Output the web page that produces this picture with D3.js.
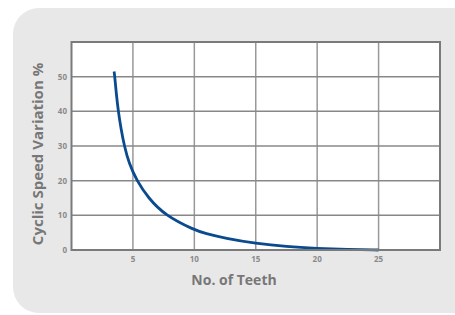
<!DOCTYPE html>
<html><head><meta charset="utf-8">
<script src="https://cdn.jsdelivr.net/npm/d3@7"></script>
<style>html,body{margin:0;padding:0;background:#fff;}svg{display:block;}</style>
</head><body>
<script>
const teeth = [3.47, 3.52, 3.65, 3.81, 4.03, 4.30, 4.68, 5.31, 6.25, 7.61, 10, 10.87, 12.5, 15, 17.5, 20, 22.5, 25];
const variation = [51.5, 50, 45, 40, 35, 30, 25, 20, 15, 10, 5.77, 4.8, 3.4, 1.9, 0.95, 0.45, 0.15, 0];
const xTicks = [5, 10, 15, 20, 25];
const yTicks = [0, 10, 20, 30, 40, 50];
const xTitle = "No. of Teeth";
const yTitle = "Cyclic Speed Variation %";

const W = 455, H = 315;
const svg = d3.select("body").append("svg").attr("width", W).attr("height", H);
svg.append("rect").attr("x", 13).attr("y", 8).attr("width", 470).attr("height", 305)
  .attr("rx", 26).attr("fill", "#e8e8e8");

const L = 71.5, R = 440, T = 42, B = 250;
const x = d3.scaleLinear().domain([0, 30]).range([L, R]);
const y = d3.scaleLinear().domain([0, 60]).range([B, T]);

svg.append("rect").attr("x", L).attr("y", T).attr("width", R - L).attr("height", B - T).attr("fill", "#fff");

const g = svg.append("g");
g.selectAll("line.v").data(xTicks).join("line").attr("class", "v")
  .attr("x1", d => x(d)).attr("x2", d => x(d)).attr("y1", T).attr("y2", B)
  .attr("stroke", "#999").attr("stroke-width", 1.5);
g.selectAll("line.h").data(yTicks.filter(d => d > 0)).join("line").attr("class", "h")
  .attr("x1", L).attr("x2", R).attr("y1", d => y(d)).attr("y2", d => y(d))
  .attr("stroke", "#888").attr("stroke-width", 1.5);

const pts = teeth.map((t, i) => [t, variation[i]]);
svg.append("path").datum(pts)
  .attr("d", d3.line().x(d => x(d[0])).y(d => y(d[1])).curve(d3.curveBasis))
  .attr("fill", "none").attr("stroke", "#0a4a8e").attr("stroke-width", 2.8);

svg.append("rect").attr("x", L).attr("y", T).attr("width", R - L).attr("height", B - T)
  .attr("fill", "none").attr("stroke", "#7a7a7a").attr("stroke-width", 2);

const font = "'Open Sans', sans-serif";
svg.append("g").selectAll("text").data(xTicks).join("text")
  .attr("x", d => x(d)).attr("y", 262).attr("text-anchor", "middle")
  .attr("font-family", font).attr("font-size", 8).attr("font-weight", "bold").attr("fill", "#8a8a8a")
  .text(d => d);
svg.append("g").selectAll("text").data(yTicks).join("text")
  .attr("x", 67).attr("y", d => y(d) + 3).attr("text-anchor", "end")
  .attr("font-family", font).attr("font-size", 8).attr("font-weight", "bold").attr("fill", "#8a8a8a")
  .text(d => d);

svg.append("text").attr("x", 234).attr("y", 285).attr("text-anchor", "middle")
  .attr("font-family", font).attr("font-size", 14).attr("font-weight", "bold").attr("fill", "#777")
  .text(xTitle);
svg.append("text").attr("transform", "translate(43,154) rotate(-90)").attr("text-anchor", "middle")
  .attr("font-family", font).attr("font-size", 15).attr("font-weight", "bold").attr("fill", "#777")
  .text(yTitle);
</script>
</body></html>
